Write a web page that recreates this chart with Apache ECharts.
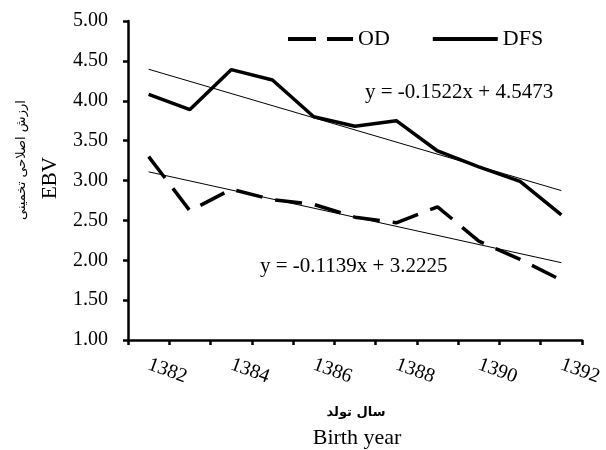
<!DOCTYPE html>
<html>
<head>
<meta charset="utf-8">
<script src="https://cdn.jsdelivr.net/npm/echarts@6/dist/echarts.min.js"></script>
<style>
  html, body { margin: 0; padding: 0; background: #fff; }
  #main { width: 606px; height: 450px; }
</style>
</head>
<body>
<div id="main"></div>
<script>
// سال تولد - birth years
var years = ['1382', '1383', '1384', '1385', '1386', '1387', '1388', '1389', '1390', '1391', '1392'];
// EBV values
var odValues = [3.30, 2.62, 2.89, 2.76, 2.70, 2.54, 2.47, 2.67, 2.24, 2.01, 1.75];
var dfsValues = [4.08, 3.89, 4.39, 4.26, 3.80, 3.68, 3.75, 3.37, 3.17, 2.99, 2.57];
// linear trend lines, end points (first and last year)
var odTrend = [3.1086, 1.9696];
var dfsTrend = [4.3951, 2.8731];
var odEquation = 'y = -0.1139x + 3.2225';
var dfsEquation = 'y = -0.1522x + 4.5473';

var serif = '"Liberation Serif", "DejaVu Serif", serif';

function trendData(ends) {
    var arr = [];
    for (var i = 0; i < years.length; i++) {
        arr.push(null);
    }
    arr[0] = ends[0];
    arr[years.length - 1] = ends[1];
    return arr;
}

var myChart = echarts.init(document.getElementById('main'));
var option = {
    animation: false,
    backgroundColor: '#fff',
    grid: { left: 128, right: 24, top: 21, bottom: 110 },
    legend: {
        data: [
            { name: 'OD', icon: 'path://M0,0h28v4h-28z M39,0h26v4h-26z' },
            { name: 'DFS', icon: 'path://M0,0h65v4h-65z' }
        ],
        left: 283,
        top: 23,
        itemWidth: 65,
        itemHeight: 4,
        itemGap: 43,
        itemStyle: { color: '#000' },
        textStyle: { fontFamily: serif, fontSize: 22, color: '#000' }
    },
    xAxis: {
        type: 'category',
        data: years,
        boundaryGap: true,
        axisLine: { lineStyle: { color: '#000', width: 2.5 } },
        axisTick: { show: true, interval: 0, length: 5, lineStyle: { color: '#000', width: 2.5 } },
        axisLabel: {
            interval: 1,
            rotate: -20,
            margin: 24,
            fontFamily: serif,
            fontSize: 20,
            color: '#000'
        },
        splitLine: { show: false }
    },
    yAxis: {
        type: 'value',
        min: 1,
        max: 5,
        interval: 0.5,
        axisLine: { show: true, lineStyle: { color: '#000', width: 2.5 } },
        axisTick: { show: true, length: 5, lineStyle: { color: '#000', width: 2.5 } },
        axisLabel: {
            margin: 20,
            fontFamily: serif,
            fontSize: 20,
            color: '#000',
            formatter: function (v) { return v.toFixed(2); }
        },
        splitLine: { show: false }
    },
    graphic: [
        {
            type: 'text', left: 365, top: 82,
            style: { text: dfsEquation, font: '21px ' + serif, fill: '#000' }
        },
        {
            type: 'text', left: 260, top: 256,
            style: { text: odEquation, font: '21px ' + serif, fill: '#000' }
        },
        {
            type: 'text', x: 22, y: 160, rotation: Math.PI / 2,
            style: { text: 'ارزش اصلاحی تخمینی', font: '13px "DejaVu Sans", sans-serif',
                     fill: '#000', align: 'center', verticalAlign: 'middle' }
        },
        {
            type: 'text', x: 50, y: 178, rotation: Math.PI / 2,
            style: { text: 'EBV', font: '21px ' + serif, fill: '#000', align: 'center', verticalAlign: 'middle' }
        },
        {
            type: 'text', x: 356, y: 413,
            style: { text: 'سال تولد', font: 'bold 13px "DejaVu Sans", sans-serif',
                     fill: '#000', align: 'center', verticalAlign: 'middle' }
        },
        {
            type: 'text', x: 357, y: 438,
            style: { text: 'Birth year', font: '22px ' + serif, fill: '#000', align: 'center', verticalAlign: 'middle' }
        }
    ],
    series: [
        {
            name: 'OD',
            type: 'line',
            data: odValues,
            symbol: 'none',
            z: 3,
            lineStyle: { color: '#000', width: 3.5, type: [27, 13] },
            itemStyle: { color: '#000' }
        },
        {
            name: 'DFS',
            type: 'line',
            data: dfsValues,
            symbol: 'none',
            z: 3,
            lineStyle: { color: '#000', width: 3.5 },
            itemStyle: { color: '#000' }
        },
        {
            name: 'OD trend',
            type: 'line',
            data: trendData(odTrend),
            connectNulls: true,
            symbol: 'none',
            z: 2,
            lineStyle: { color: '#000', width: 1 }
        },
        {
            name: 'DFS trend',
            type: 'line',
            data: trendData(dfsTrend),
            connectNulls: true,
            symbol: 'none',
            z: 2,
            lineStyle: { color: '#000', width: 1 }
        }
    ]
};
myChart.setOption(option);
</script>
</body>
</html>
